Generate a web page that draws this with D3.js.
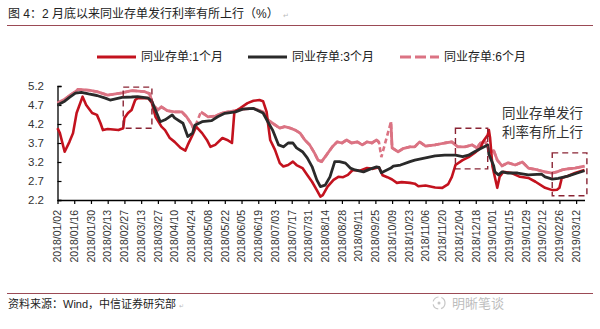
<!DOCTYPE html>
<html><head><meta charset="utf-8">
<script src="https://cdn.jsdelivr.net/npm/d3@7"></script>
<style>
body{margin:0;background:#fff;}
svg{display:block;font-family:"Liberation Sans",Arial,"Noto Sans CJK SC",sans-serif;}
</style>
</head><body>
<svg id="chart" width="600" height="329"></svg>
<script>
// ---------- data ----------
const titleText = "图 4：2 月底以来同业存单发行利率有所上行（%）";
const sourceText = "资料来源：Wind，中信证券研究部";
const seriesNames = ["同业存单:1个月", "同业存单:3个月", "同业存单:6个月"];
const yTickValues = [2.2, 2.7, 3.2, 3.7, 4.2, 4.7, 5.2];
const xTickLabels = ["2018/01/02","2018/01/16","2018/01/30","2018/02/13","2018/02/27","2018/03/13","2018/03/27","2018/04/10","2018/04/24","2018/05/08","2018/05/22","2018/06/05","2018/06/19","2018/07/03","2018/07/17","2018/07/31","2018/08/14","2018/08/28","2018/09/11","2018/09/25","2018/10/09","2018/10/23","2018/11/06","2018/11/20","2018/12/04","2018/12/18","2019/01/01","2019/01/15","2019/01/29","2019/02/12","2019/02/26","2019/03/12"];
const xDomain = ["2018-01-02", "2019-03-19"];

const dates1M = ["2018-01-02","2018-01-04","2018-01-08","2018-01-12","2018-01-15","2018-01-18","2018-01-23","2018-01-26","2018-01-31","2018-02-04","2018-02-07","2018-02-09","2018-02-13","2018-02-22","2018-02-26","2018-02-27","2018-03-02","2018-03-05","2018-03-08","2018-03-10","2018-03-14","2018-03-19","2018-03-22","2018-03-25","2018-03-30","2018-04-02","2018-04-06","2018-04-10","2018-04-15","2018-04-19","2018-04-21","2018-04-25","2018-04-28","2018-05-03","2018-05-07","2018-05-10","2018-05-14","2018-05-20","2018-05-24","2018-05-28","2018-05-30","2018-06-04","2018-06-10","2018-06-15","2018-06-20","2018-06-23","2018-06-26","2018-06-27","2018-06-29","2018-07-03","2018-07-07","2018-07-10","2018-07-14","2018-07-18","2018-07-21","2018-07-26","2018-07-30","2018-08-03","2018-08-07","2018-08-10","2018-08-12","2018-08-16","2018-08-21","2018-08-25","2018-08-29","2018-09-02","2018-09-06","2018-09-12","2018-09-18","2018-09-23","2018-09-28","2018-10-01","2018-10-05","2018-10-09","2018-10-13","2018-10-17","2018-10-24","2018-10-28","2018-10-31","2018-11-06","2018-11-14","2018-11-20","2018-11-25","2018-11-28","2018-12-01","2018-12-07","2018-12-12","2018-12-17","2018-12-22","2018-12-24","2018-12-28","2018-12-29","2018-12-30","2019-01-01","2019-01-05","2019-01-07","2019-01-10","2019-01-17","2019-01-24","2019-01-31","2019-02-06","2019-02-14","2019-02-20","2019-02-24","2019-02-26","2019-02-28","2019-03-05","2019-03-11","2019-03-19"];
const values1M = [4.09,3.96,3.47,3.73,3.96,4.49,4.92,4.70,4.49,4.44,4.22,4.04,4.07,4.04,4.09,4.36,4.49,4.57,4.83,4.88,4.88,4.88,4.75,4.39,4.13,4.04,3.83,3.73,3.57,3.50,3.65,3.91,4.13,3.96,3.78,3.60,3.65,3.83,3.78,3.70,4.52,4.62,4.75,4.81,4.83,4.80,4.52,4.26,3.78,3.52,3.17,3.08,3.12,3.21,3.12,3.04,2.86,2.68,2.46,2.29,2.33,2.55,2.73,2.81,2.80,2.86,2.99,2.97,3.04,3.02,3.06,2.85,2.80,2.74,2.65,2.67,2.65,2.63,2.56,2.58,2.53,2.52,2.62,2.81,3.12,3.25,3.33,3.44,3.57,3.73,3.91,4.04,3.83,3.08,2.52,2.81,2.94,2.91,2.81,2.78,2.68,2.52,2.46,2.47,2.52,2.78,2.83,2.91,2.99];

const dates3M = ["2018-01-02","2018-01-08","2018-01-12","2018-01-17","2018-01-22","2018-01-28","2018-02-04","2018-02-11","2018-02-15","2018-02-25","2018-03-05","2018-03-10","2018-03-19","2018-03-22","2018-03-26","2018-03-29","2018-04-02","2018-04-08","2018-04-10","2018-04-15","2018-04-17","2018-04-21","2018-04-25","2018-04-27","2018-05-03","2018-05-11","2018-05-16","2018-05-22","2018-05-31","2018-06-06","2018-06-15","2018-06-23","2018-06-27","2018-07-01","2018-07-06","2018-07-10","2018-07-14","2018-07-18","2018-07-21","2018-07-26","2018-07-30","2018-08-03","2018-08-07","2018-08-10","2018-08-14","2018-08-18","2018-08-22","2018-08-26","2018-08-31","2018-09-04","2018-09-08","2018-09-15","2018-09-21","2018-09-26","2018-09-28","2018-09-30","2018-10-08","2018-10-10","2018-10-16","2018-10-24","2018-10-28","2018-11-06","2018-11-14","2018-11-22","2018-12-01","2018-12-07","2018-12-12","2018-12-17","2018-12-23","2018-12-28","2018-12-29","2019-01-02","2019-01-03","2019-01-06","2019-01-09","2019-01-14","2019-01-22","2019-01-31","2019-02-11","2019-02-14","2019-02-20","2019-02-25","2019-03-05","2019-03-13","2019-03-19"];
const values3M = [4.70,4.80,4.90,5.01,5.03,4.99,4.95,4.88,4.83,4.90,4.91,4.92,4.88,4.79,4.49,4.26,4.31,4.44,4.36,4.26,4.22,3.87,3.96,4.17,4.26,4.29,4.39,4.48,4.52,4.59,4.61,4.49,4.26,4.04,3.65,3.60,3.70,3.70,3.57,3.47,3.31,3.08,2.73,2.55,2.59,2.81,3.21,3.21,3.17,3.04,2.99,2.94,3.02,3.07,3.06,2.92,3.04,3.09,3.12,3.21,3.25,3.31,3.36,3.38,3.38,3.34,3.38,3.47,3.57,3.65,3.40,3.10,2.94,2.86,2.94,2.91,2.91,2.86,2.88,2.81,2.75,2.77,2.83,2.91,2.97];

const dates6M = ["2018-01-02","2018-01-08","2018-01-12","2018-01-17","2018-01-19","2018-01-28","2018-02-04","2018-02-13","2018-02-25","2018-03-05","2018-03-16","2018-03-20","2018-03-23","2018-03-27","2018-03-30","2018-04-04","2018-04-10","2018-04-16","2018-04-20","2018-04-24","2018-04-26","2018-04-28","2018-04-30","2018-05-02","2018-05-08","2018-05-14","2018-05-20","2018-05-25","2018-05-31","2018-06-06","2018-06-15","2018-06-23","2018-06-27","2018-07-01","2018-07-07","2018-07-11","2018-07-16","2018-07-20","2018-07-24","2018-07-28","2018-08-01","2018-08-05","2018-08-08","2018-08-11","2018-08-15","2018-08-20","2018-08-24","2018-08-28","2018-09-01","2018-09-05","2018-09-10","2018-09-14","2018-09-18","2018-09-22","2018-09-26","2018-09-28","2018-09-29","2018-09-30","2018-10-03","2018-10-08","2018-10-09","2018-10-14","2018-10-18","2018-10-24","2018-10-28","2018-11-01","2018-11-06","2018-11-14","2018-11-22","2018-11-28","2018-12-03","2018-12-09","2018-12-15","2018-12-19","2018-12-22","2018-12-26","2018-12-30","2019-01-02","2019-01-05","2019-01-09","2019-01-14","2019-01-20","2019-01-26","2019-01-31","2019-02-08","2019-02-14","2019-02-20","2019-02-24","2019-02-28","2019-03-05","2019-03-11","2019-03-19"];
const values6M = [4.75,4.85,4.95,5.05,5.11,5.09,5.05,4.96,5.02,5.08,5.05,5.00,4.70,4.57,4.65,4.55,4.52,4.52,4.39,4.20,4.07,4.20,null,4.52,4.39,4.41,4.49,4.52,4.55,4.59,4.61,4.52,4.31,4.22,4.09,4.13,4.09,4.04,3.96,3.78,3.65,3.44,3.25,3.21,3.38,3.60,3.73,3.70,3.78,3.70,3.73,3.65,3.73,3.70,3.78,3.72,null,3.33,null,4.25,3.57,3.47,3.55,3.60,3.60,3.73,3.62,3.65,3.70,3.73,3.60,3.60,3.65,3.57,3.70,3.73,3.47,3.50,3.25,3.10,3.18,3.12,3.20,3.04,2.99,2.94,2.91,2.94,2.99,3.02,3.04,3.09];

// annotation boxes (date range, value range)
const boxDates = [["2018-02-26","2018-03-22"],["2018-12-01","2018-12-28"],["2019-02-20","2019-03-21"]];
const boxValues = [[4.09,5.17],[3.02,4.09],[2.31,3.44]];
const noteLines = ["同业存单发行", "利率有所上行"];

// ---------- drawing ----------
const parse = d3.timeParse("%Y-%m-%d");
const parseTick = d3.timeParse("%Y/%m/%d");
const svg = d3.select("#chart");
const colors = ["#C3121E", "#2A2A2A", "#DB7383"];
const boxColor = "#8A2434";

const x = d3.scaleTime().domain(xDomain.map(parse)).range([57.5, 584.5]);
const y = d3.scaleLinear().domain([2.2, 5.2]).range([200, 86]);

// title
const tt = svg.append("text").attr("x", 8).attr("y", 18).attr("font-size", 12).attr("fill", "#222")
  .text(titleText);
const tw = tt.node().getComputedTextLength();
svg.append("text").attr("x", 8 + tw + 4).attr("y", 18).attr("font-size", 7).attr("fill", "#bbb").text("↵");
svg.append("line").attr("x1", 7).attr("x2", 593).attr("y1", 25.5).attr("y2", 25.5)
  .attr("stroke", "#9B4A55").attr("stroke-width", 1);

// footer
svg.append("line").attr("x1", 7).attr("x2", 593).attr("y1", 293.5).attr("y2", 293.5)
  .attr("stroke", "#9B4A55").attr("stroke-width", 1);
const st = svg.append("text").attr("x", 8).attr("y", 308).attr("font-size", 11).attr("fill", "#222").text(sourceText);
const sw = st.node().getComputedTextLength();
svg.append("text").attr("x", 8 + sw + 3).attr("y", 308).attr("font-size", 6).attr("fill", "#bbb").text("↵");
// watermark
const wm = svg.append("g").attr("opacity", 0.55);
wm.append("circle").attr("cx", 439).attr("cy", 303).attr("r", 6).attr("fill", "none").attr("stroke", "#999").attr("stroke-width", 1.2).attr("stroke-dasharray", "7,3");
wm.append("circle").attr("cx", 439).attr("cy", 303).attr("r", 1.5).attr("fill", "#999");
wm.append("text").attr("x", 452).attr("y", 308).attr("font-size", 13).attr("fill", "#888").text("明晰笔谈");

// axes
const yAxis = svg.append("g").attr("transform", "translate(57.5,0)")
  .call(d3.axisRight(y).tickValues(yTickValues).tickSize(4).tickFormat(""));
yAxis.select(".domain").attr("stroke", "#000").attr("stroke-width", 1.3);
yAxis.selectAll(".tick line").attr("stroke", "#000").attr("stroke-width", 1.2);
svg.append("g").selectAll("text").data(yTickValues).join("text")
  .attr("x", 44).attr("y", d => y(d)).attr("dy", "0.35em").attr("text-anchor", "end")
  .attr("font-size", 11.5).attr("fill", "#333").text(d => d3.format(".1f")(d));

const xTicks = xTickLabels.map(parseTick);
const xAxis = svg.append("g").attr("transform", "translate(0,200)")
  .call(d3.axisBottom(x).tickValues(xTicks).tickSizeInner(4).tickSizeOuter(0).tickFormat(""));
xAxis.select(".domain").attr("stroke", "#000").attr("stroke-width", 1.3);
xAxis.selectAll(".tick line").attr("stroke", "#000").attr("stroke-width", 1.2);
svg.append("g").selectAll("text").data(xTicks).join("text")
  .attr("transform", d => `translate(${x(d)},210) rotate(-90)`)
  .attr("dy", "0.36em").attr("text-anchor", "end")
  .attr("font-size", 10.5).attr("fill", "#333")
  .text((d, i) => xTickLabels[i]);

// series
const mk = (ds, vs) => ds.map((d, i) => ({d: parse(d), v: vs[i]}));
const s1 = mk(dates1M, values1M), s3 = mk(dates3M, values3M), s6 = mk(dates6M, values6M);
const line = d3.line().defined(p => p.v != null).x(p => x(p.d)).y(p => y(p.v));

// 6M: dashed connection across gaps, solid where data is dense
svg.append("path").attr("d", line(s6.filter(p => p.v != null)))
  .attr("fill", "none").attr("stroke", colors[2]).attr("stroke-width", 2.6).attr("stroke-dasharray", "5,3");
svg.append("path").attr("d", line(s6)).attr("fill", "none").attr("stroke", colors[2])
  .attr("stroke-width", 2.8).attr("stroke-linejoin", "round");
svg.append("path").attr("d", line(s1)).attr("fill", "none").attr("stroke", colors[0])
  .attr("stroke-width", 2.6).attr("stroke-linejoin", "round");
svg.append("path").attr("d", line(s3)).attr("fill", "none").attr("stroke", colors[1])
  .attr("stroke-width", 2.8).attr("stroke-linejoin", "round");

// dashed boxes
svg.append("g").selectAll("rect").data(boxDates).join("rect")
  .attr("x", (b) => x(parse(b[0])))
  .attr("width", (b) => x(parse(b[1])) - x(parse(b[0])))
  .attr("y", (b, i) => y(boxValues[i][1]))
  .attr("height", (b, i) => y(boxValues[i][0]) - y(boxValues[i][1]))
  .attr("fill", "none").attr("stroke", boxColor).attr("stroke-width", 1.4).attr("stroke-dasharray", "6,4");

// note
svg.append("g").selectAll("text").data(noteLines).join("text")
  .attr("x", 502).attr("y", (d, i) => 118 + i * 19)
  .attr("font-size", 13.5).attr("fill", "#333").text(d => d);

// legend
const legendX = [97, 248, 400];
const lg = svg.append("g").selectAll("g").data(seriesNames).join("g")
  .attr("transform", (d, i) => `translate(${legendX[i]},57)`);
lg.append("line").attr("x1", 0).attr("x2", 39).attr("y1", 0).attr("y2", 0)
  .attr("stroke", (d, i) => colors[i]).attr("stroke-width", 3.2)
  .attr("stroke-dasharray", (d, i) => i === 2 ? "11,4" : null);
lg.append("text").attr("x", 44).attr("y", 0).attr("dy", "0.36em")
  .attr("font-size", 12).attr("fill", "#222").text(d => d);
</script>
</body></html>
